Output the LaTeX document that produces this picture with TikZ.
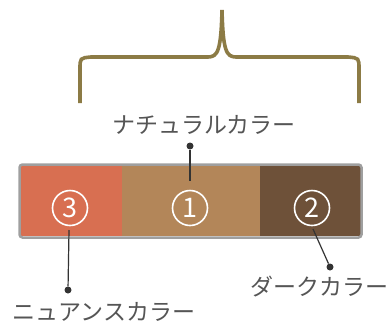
\documentclass[tikz,border=0pt]{standalone}
\usepackage{fontspec}
\newfontfamily\jpfont{Noto Sans CJK JP}
\definecolor{braceC}{HTML}{8C7B45}
\definecolor{nuanceC}{HTML}{D86F51}
\definecolor{naturalC}{HTML}{B38659}
\definecolor{darkC}{HTML}{6E5139}
\definecolor{lineC}{HTML}{333333}
\definecolor{textC}{HTML}{555555}
\tikzset{
  seg/.style={draw=none, inner sep=0, minimum height=70pt, anchor=north west},
  num/.style={circle, draw=white, line width=1.6pt, minimum size=35pt, inner sep=0,
    text=white, font=\jpfont\fontsize{27}{27}\selectfont},
  lbl/.style={text=textC, inner sep=0, font=\jpfont\fontsize{23}{23}\selectfont},
  dot/.style={circle, fill=lineC, inner sep=0, minimum size=7pt},
  con/.style={draw=lineC, line width=1.2pt}
}
\begin{document}
\begin{tikzpicture}[x=1pt,y=-1pt]
      \useasboundingbox (0,0) rectangle (390,325);
      % brace
      \draw [braceC, line width=3.6pt, line cap=butt]
        (80,103) -- (80,69) .. controls (80,58) .. (91,57) -- (208,57)
        .. controls (218,57) and (221,50) .. (222,10)
        .. controls (223,50) and (226,57) .. (236,57) -- (348,57)
        .. controls (359,58) .. (359,69) -- (359,103);
      % palette
      \node [seg, fill=nuanceC, minimum width=101pt] (S3) at (21,166) {};
      \node [seg, fill=naturalC, minimum width=139pt] (S1) at (121.5,166) {};
      \node [seg, fill=darkC, minimum width=101pt] (S2) at (260,166) {};
      \draw [draw=gray!75, line width=2.5pt, rounded corners=3pt] (19.5,164.5) rectangle (361.5,237.5);
      \node [num] (C3) at (70,208) {3};
      \node [num] (C1) at (190,208) {1};
      \node [num] (C2) at (312,208) {2};
      % labels
      \node [lbl] (N) at (204,125) {ナチュラルカラー};
      \node [lbl] (U) at (104,312) {ニュアンスカラー};
      \node [lbl] (D) at (319,287) {ダークカラー};
      \node [dot] (dN) at (190,146) {};
      \node [dot] (dU) at (68,290) {};
      \node [dot] (dD) at (330,267) {};
      \coordinate (eN) at (190,181);
      \coordinate (eU) at (69,230);
      \coordinate (eD) at (313,229);
      \draw [con] (dN) -- (eN);
      \draw [con] (dU) -- (eU);
      \draw [con] (dD) -- (eD);
    \end{tikzpicture}
\end{document}
